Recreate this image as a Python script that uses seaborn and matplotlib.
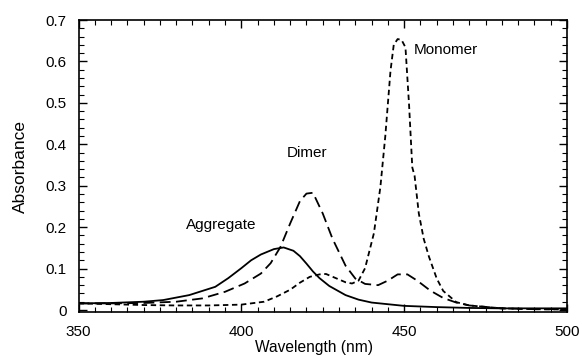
import numpy as np
import pandas as pd
import seaborn as sns
import matplotlib
matplotlib.use("Agg")
import matplotlib.pyplot as plt
from matplotlib.ticker import MultipleLocator

# Data
agg_wl = [350, 360, 370, 376, 384, 392, 396, 400, 403, 406, 410, 413, 416, 418, 420, 422, 424, 427, 432, 436, 440,
          450, 460, 470, 480, 490, 500]
agg_abs = [0.016, 0.017, 0.020, 0.024, 0.036, 0.056, 0.077, 0.101, 0.120, 0.134, 0.147, 0.151, 0.143, 0.130, 0.112,
           0.093, 0.077, 0.058, 0.036, 0.025, 0.018, 0.010, 0.007, 0.005, 0.004, 0.004, 0.004]

dim_wl = [350, 360, 370, 380, 388, 395, 401, 406, 409, 412, 415, 418, 420, 422, 425, 428, 432, 435, 438, 442, 445,
          448, 451, 454, 458, 462, 466, 470, 480, 490, 500]
dim_abs = [0.016, 0.016, 0.017, 0.020, 0.028, 0.044, 0.064, 0.088, 0.113, 0.152, 0.209, 0.263, 0.281, 0.283, 0.233,
           0.172, 0.107, 0.076, 0.063, 0.060, 0.071, 0.086, 0.086, 0.071, 0.047, 0.029, 0.018, 0.011, 0.004, 0.002, 0.002]

mon_wl = [350, 360, 370, 380, 390, 400, 407, 411, 415, 418, 421, 424, 426, 429, 432, 434, 436, 438, 440.7, 442.7,
          444.2, 445.8, 446.8, 448, 449.2, 450.4, 451.5, 452.5, 453.2, 454.5, 456, 457.6, 460, 462, 466, 470, 480, 490, 500]
mon_abs = [0.016, 0.014, 0.012, 0.011, 0.011, 0.013, 0.020, 0.033, 0.049, 0.066, 0.080, 0.086, 0.087, 0.077, 0.067,
           0.064, 0.071, 0.101, 0.185, 0.297, 0.419, 0.577, 0.640, 0.654, 0.652, 0.634, 0.496, 0.344, 0.324, 0.233,
           0.172, 0.129, 0.076, 0.046, 0.019, 0.011, 0.004, 0.002, 0.001]

series_names = ["Aggregate", "Dimer", "Monomer"]

df = pd.concat([
    pd.DataFrame({"wl": agg_wl, "abs": agg_abs, "series": "Aggregate"}),
    pd.DataFrame({"wl": dim_wl, "abs": dim_abs, "series": "Dimer"}),
    pd.DataFrame({"wl": mon_wl, "abs": mon_abs, "series": "Monomer"}),
], ignore_index=True)

sns.set_style("ticks")
plt.rcParams["font.family"] = ["Liberation Sans", "DejaVu Sans"]
plt.rcParams["text.color"] = "black"
plt.rcParams["axes.labelcolor"] = "black"

fig = plt.figure(figsize=(5.82, 3.56), dpi=100)
ax = fig.add_axes([0.1349, 0.1222, 0.8393, 0.8216])

sns.lineplot(data=df, x="wl", y="abs", style="series", color="black",
             dashes={"Aggregate": "", "Dimer": (6, 3), "Monomer": (3, 2)},
             linewidth=1.3, legend=False, ax=ax, sort=False)

ax.set_xlim(350, 500)
ax.set_ylim(-0.006, 0.7)
ax.set_xticks([350, 400, 450, 500])
ax.set_yticks([0, 0.1, 0.2, 0.3, 0.4, 0.5, 0.6, 0.7])
ax.set_yticklabels(["0", "0.1", "0.2", "0.3", "0.4", "0.5", "0.6", "0.7"])
ax.xaxis.set_minor_locator(MultipleLocator(5))
ax.yaxis.set_minor_locator(MultipleLocator(0.02))
ax.tick_params(which="both", direction="in", top=True, right=True, colors="black", labelsize=11)
ax.tick_params(which="major", length=5.8, width=1)
ax.tick_params(which="minor", length=3.6, width=0.8)
ax.tick_params(axis="x", which="major", pad=9)
ax.tick_params(axis="y", which="major", pad=8.5)
for s in ax.spines.values():
    s.set_linewidth(1.2)
    s.set_color("black")

ax.set_xlabel("Wavelength (nm)", fontsize=11.2)
ax.set_ylabel("Absorbance", fontsize=12.5)
ax.xaxis.set_label_coords(0.482, -0.094)
ax.yaxis.set_label_coords(-0.104, 0.5)

ax.text(453, 0.628, "Monomer", fontsize=11, va="center", ha="left")
ax.text(414, 0.38, "Dimer", fontsize=11, va="center", ha="left")
ax.text(383, 0.205, "Aggregate", fontsize=11, va="center", ha="left")

fig.savefig("out.png", dpi=100)
